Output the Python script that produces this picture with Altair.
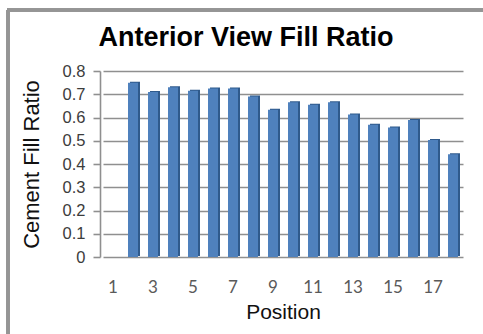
import altair as alt
import pandas as pd

# Fill ratio per vertebral position (position 1 has no measurement)
positions = list(range(1, 19))
fill_ratio = [None, 0.75, 0.71, 0.73, 0.715, 0.725, 0.725, 0.69, 0.633,
              0.666, 0.655, 0.666, 0.613, 0.569, 0.557, 0.589, 0.503, 0.442]
x_tick_labels = [1, 3, 5, 7, 9, 11, 13, 15, 17]
y_ticks = [0, 0.1, 0.2, 0.3, 0.4, 0.5, 0.6, 0.7, 0.8]
chart_title = "Anterior View Fill Ratio"

df = pd.DataFrame({"Position": positions, "Ratio": fill_ratio}).dropna()

W, H = 360, 186
LEFT, TOP = 103, 71

x_enc = alt.X(
    "Position:O",
    scale=alt.Scale(domain=positions, paddingInner=0.5, paddingOuter=0.25),
    axis=alt.Axis(
        values=x_tick_labels, labelAngle=0, domain=False, ticks=False, tickSize=0,
        labelFont="Lato", labelFontSize=17, labelColor="#5a5a5a", labelPadding=22,
        title="Position", titleFont="Liberation Sans", titleFontSize=21,
        titleFontWeight="normal", titleColor="#111111",
        titleY=61, titleBaseline="alphabetic",
    ),
)
y_enc = alt.Y(
    "Ratio:Q",
    scale=alt.Scale(domain=[0, 0.8], nice=False),
    axis=alt.Axis(
        values=y_ticks, format=".1~f", offset=3,
        grid=True, gridColor="#8f8f8f", gridWidth=1.6,
        domainColor="#8f8f8f", domainWidth=1.6,
        tickColor="#8f8f8f", tickWidth=1.6, tickSize=7,
        labelFont="Liberation Sans", labelFontSize=16.5, labelColor="#3c3c3c",
        labelPadding=8,
        title="Cement Fill Ratio", titleFont="Liberation Sans", titleFontSize=22,
        titleFontWeight="normal", titleColor="#111111",
        titleX=-69, titleY=H / 2, titleAngle=270,
        titleAlign="center", titleBaseline="middle",
    ),
)

# darker side face, then the front face of each column
side = alt.Chart(df).mark_bar(color="#2f5a8c", xOffset=2, yOffset=-1).encode(x=x_enc, y=y_enc)
front = alt.Chart(df).mark_bar(color="#4f81bd").encode(x=x_enc, y=y_enc)

# chart heading
heading = alt.Chart(pd.DataFrame({"t": [chart_title]})).mark_text(
    font="Liberation Sans", fontSize=27, fontWeight="bold", color="#000000",
    align="center", baseline="alphabetic",
).encode(text="t:N", x=alt.value(246 - LEFT), y=alt.value(46 - TOP))

# outer frame lines (top and left)
frame_top = alt.Chart(df).mark_rule(color="#959595", strokeWidth=3).encode(
    x=alt.value(7 - LEFT), x2=alt.value(483 - LEFT), y=alt.value(10 - TOP))
frame_left = alt.Chart(df).mark_rule(color="#959595", strokeWidth=3).encode(
    x=alt.value(8 - LEFT), y=alt.value(10 - TOP), y2=alt.value(334 - TOP))

chart = (
    alt.layer(frame_top, frame_left, side, front, heading)
    .properties(
        width=W, height=H,
        autosize=alt.AutoSizeParams(type="none"),
        padding={"left": LEFT, "top": TOP, "right": 483 - LEFT - W, "bottom": 334 - TOP - H},
        background="white",
    )
    .configure_view(stroke=None)
)

chart.save("out.html", embed_options={"renderer": "svg", "actions": False})
